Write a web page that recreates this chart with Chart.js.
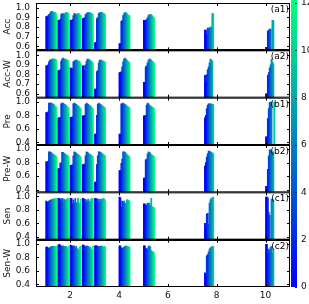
<!DOCTYPE html>
<html>
<head>
<meta charset="utf-8">
<script src="https://cdn.jsdelivr.net/npm/chart.js@4.4.1/dist/chart.umd.min.js"></script>
<style>
  html, body { margin: 0; padding: 0; background: #fff; }
  #wrap { width: 309px; height: 304px; }
</style>
</head>
<body>
<div id="wrap"><canvas id="chart"></canvas></div>
<script>
// x positions of the bar groups
const groupPositions = [1, 1.5, 2, 2.5, 3, 4, 5, 7.5, 10];
const panelNames = ["Acc", "Acc-W", "Pre", "Pre-W", "Sen", "Sen-W"];
const panelTags = ["(a1)", "(a2)", "(b1)", "(b2)", "(c1)", "(c2)"];
const panelMin = [0.56, 0.56, 0.36, 0.36, 0.36, 0.36];
const panelMax = [1.05, 1.05, 1.06, 1.06, 1.06, 1.06];
const panelStep = [0.1, 0.1, 0.2, 0.2, 0.2, 0.2];
const xMin = 0.6, xMax = 11, xStep = 2;
const colorbarMin = 0, colorbarMax = 12, colorbarStep = 2;

// one row per group, 12 bars per group (colour index 0..11)
const accValues = [
  [0.91, 0.91, 0.92, 0.93, 0.94, 0.96, 0.96, 0.96, 0.95, 0.95, 0.95, 0.94],
  [0.87, 0.87, 0.88, 0.93, 0.94, 0.94, 0.93, 0.94, 0.95, 0.95, 0.95, 0.94],
  [0.87, 0.87, 0.88, 0.92, 0.94, 0.94, 0.93, 0.93, 0.94, 0.94, 0.93, 0.92],
  [0.89, 0.89, 0.90, 0.93, 0.94, 0.95, 0.95, 0.95, 0.95, 0.94, 0.94, 0.93],
  [0.64, 0.64, 0.89, 0.90, 0.94, 0.95, 0.95, 0.95, 0.95, 0.94, 0.94, 0.93],
  [0.63, 0.63, 0.86, 0.87, 0.92, 0.94, 0.95, 0.95, 0.94, 0.93, 0.92, 0.92],
  [0.87, 0.87, 0.87, 0.88, 0.90, 0.92, 0.93, 0.93, 0.93, 0.92, 0.91, 0.90],
  [0.77, 0.77, 0.72, 0.79, 0.79, 0.79, 0.80, 0.80, 0.94, 0.94, null, null],
  [0.59, 0.59, 0.76, 0.77, 0.78, 0.78, null, 0.87, 0.87, null, null, null]
];
const accWValues = [
  [0.89, 0.89, 0.90, 0.93, 0.95, 0.95, 0.96, 0.96, 0.96, 0.96, 0.96, 0.95],
  [0.84, 0.84, 0.85, 0.94, 0.96, 0.97, 0.96, 0.96, 0.96, 0.95, 0.95, 0.94],
  [0.87, 0.86, 0.86, 0.93, 0.94, 0.95, 0.95, 0.95, 0.94, 0.94, 0.93, 0.91],
  [0.89, 0.89, 0.84, 0.90, 0.94, 0.96, 0.96, 0.95, 0.95, 0.94, 0.93, 0.92],
  [0.65, 0.65, 0.83, 0.84, 0.92, 0.95, 0.95, 0.95, 0.94, 0.94, 0.93, 0.93],
  [0.82, 0.82, 0.83, 0.88, 0.93, 0.96, 0.97, 0.96, 0.95, 0.94, 0.93, 0.92],
  [0.72, 0.72, 0.88, 0.89, 0.92, 0.95, 0.96, 0.96, 0.95, 0.94, 0.93, 0.92],
  [0.79, 0.72, 0.80, 0.85, 0.88, 0.92, 0.96, 0.95, 0.94, null, null, null],
  [0.60, 0.60, 0.79, 0.82, 0.87, 0.90, 0.96, 0.93, 0.91, null, null, null]
];
const preValues = [
  [0.84, 0.84, 0.85, 0.98, 0.98, 0.98, 0.98, 0.97, 0.96, 0.95, 0.93, 0.92],
  [0.76, 0.76, 0.77, 0.97, 0.98, 0.98, 0.97, 0.96, 0.95, 0.94, 0.92, 0.91],
  [0.77, 0.77, 0.78, 0.97, 0.98, 0.97, 0.96, 0.95, 0.94, 0.93, 0.92, 0.90],
  [0.79, 0.79, 0.80, 0.96, 0.98, 0.97, 0.96, 0.95, 0.94, 0.93, 0.91, 0.90],
  [0.52, 0.52, 0.80, 0.96, 0.98, 0.97, 0.96, 0.95, 0.94, 0.93, 0.92, 0.91],
  [0.52, 0.52, 0.97, 0.97, 0.98, 0.97, 0.96, 0.95, 0.94, 0.93, 0.92, 0.91],
  [0.79, 0.79, 0.80, 0.95, 0.98, 0.97, 0.95, 0.94, 0.93, 0.92, 0.91, 0.90],
  [0.76, 0.80, 0.90, 0.95, 0.97, 0.97, 0.97, 0.97, 0.96, 0.96, null, null],
  [0.48, 0.48, 0.75, 0.90, 0.99, 0.99, 1.00, null, null, 0.99, null, null]
];
const preWValues = [
  [0.81, 0.81, 0.82, 0.96, 0.96, 0.95, 0.94, 0.93, 0.92, 0.91, 0.90, 0.89],
  [0.71, 0.71, 0.79, 0.80, 0.95, 0.95, 0.94, 0.93, 0.92, 0.91, 0.90, 0.89],
  [0.76, 0.76, 0.77, 0.90, 0.96, 0.95, 0.94, 0.93, 0.92, 0.91, 0.90, 0.88],
  [0.77, 0.77, 0.78, 0.90, 0.96, 0.95, 0.94, 0.93, 0.92, 0.91, 0.90, 0.89],
  [0.51, 0.51, 0.77, 0.90, 0.96, 0.96, 0.95, 0.94, 0.93, 0.92, 0.91, 0.90],
  [0.68, 0.68, 0.79, 0.85, 0.96, 0.96, 0.95, 0.94, 0.92, 0.91, 0.90, 0.88],
  [0.57, 0.57, 0.84, 0.85, 0.93, 0.96, 0.95, 0.94, 0.92, 0.91, 0.90, 0.89],
  [0.75, 0.80, 0.88, 0.93, 0.97, 0.97, 0.96, 0.95, 0.94, 0.93, null, null],
  [0.45, 0.45, 0.70, 0.90, 0.99, 0.99, 0.97, 0.95, 0.96, null, null, null]
];
const senValues = [
  [0.93, 0.92, 0.91, 0.93, 0.94, 0.95, 0.95, 0.96, 0.96, 0.96, 0.97, 0.97],
  [0.97, 0.97, 0.96, 0.92, 0.97, 0.89, 0.96, 0.95, 0.93, 0.96, 0.97, 0.96],
  [0.97, 0.97, 0.89, 0.95, 0.89, 0.97, 0.90, 0.91, 0.97, 0.89, 0.90, 0.96],
  [0.97, 0.96, 0.96, 0.91, 0.95, 0.92, 0.96, 0.92, 0.93, 0.96, 0.97, 0.96],
  [0.97, 0.97, 0.96, 0.92, 0.96, 0.92, 0.96, 0.95, 0.96, 0.97, 0.96, 0.95],
  [0.99, 0.98, 0.84, 0.93, 0.90, 0.93, 0.88, 0.90, 0.95, 0.95, 0.94, 0.93],
  [0.89, 0.89, 0.87, 0.87, 0.90, 0.89, 0.90, 0.86, 0.97, 0.85, 0.84, 0.84],
  [0.60, 0.54, 0.74, 0.75, 0.59, 0.90, 0.95, 0.97, 0.98, 0.99, null, null],
  [0.99, 0.99, 0.98, 0.76, 0.72, null, 0.96, 0.96, 0.95, null, null, null]
];
const senWValues = [
  [0.95, 0.95, 0.93, 0.94, 0.94, 0.95, 0.96, 0.96, 0.96, 0.96, 0.96, 0.96],
  [0.98, 0.99, 0.98, 0.97, 0.96, 0.97, 0.96, 0.95, 0.96, 0.95, 0.94, 0.96],
  [0.98, 0.97, 0.97, 0.95, 0.97, 0.94, 0.96, 0.93, 0.92, 0.90, 0.95, 0.96],
  [0.98, 0.98, 0.96, 0.95, 0.97, 0.96, 0.96, 0.94, 0.95, 0.92, 0.90, 0.96],
  [0.97, 0.97, 0.97, 0.96, 0.96, 0.96, 0.96, 0.97, 0.96, 0.95, 0.95, 0.96],
  [0.97, 0.97, 0.94, 0.93, 0.94, 0.95, 0.96, 0.97, 0.96, 0.96, 0.95, 0.95],
  [0.97, 0.97, 0.93, 0.93, 0.92, 0.96, 0.97, 0.95, 0.90, 0.88, 0.88, 0.87],
  [0.57, 0.52, 0.82, 0.84, 0.88, 0.92, 0.94, 0.95, 0.96, 0.96, null, null],
  [0.99, 0.99, 0.85, 0.92, 0.88, 0.95, 0.96, 0.86, 0.92, null, null, null]
];

const panels = [accValues, accWValues, preValues, preWValues, senValues, senWValues];
const barsPerGroup = 12;
const barWidth = 0.0375;
const font = { family: "'DejaVu Sans', sans-serif", size: 9 };

// matplotlib "winter" colormap
const winter = (t) => `rgb(0, ${Math.round(255 * t)}, ${Math.round(255 * (1 - 0.5 * t))})`;

let datasets = [];
panels.forEach((vals, p) => {
  for (let i = 0; i < barsPerGroup; i++) {
    datasets.push({
      yAxisID: "y" + p,
      data: groupPositions.map((g, j) => ({ x: g + (i + 0.5) * barWidth, y: vals[j][i] })),
      backgroundColor: winter(i / (barsPerGroup - 1)),
      base: panelMin[p],
      barThickness: 1.2,
      grouped: false,
      borderWidth: 0,
    });
  }
});

const noPadding = (s) => {
  s.paddingTop = 0;
  s.paddingBottom = 0;
  s.paddingLeft = 0;
  s.paddingRight = 0;
};

let scales = {
  x: {
    type: "linear",
    position: "bottom",
    offset: false,
    min: xMin,
    max: xMax,
    grid: { display: false, drawTicks: false },
    border: { display: false },
    ticks: { stepSize: xStep, includeBounds: false, padding: 3, color: "#111", font: font },
    afterFit: (s) => { s.height = 17; noPadding(s); },
  },
};

panelNames.forEach((name, p) => {
  scales["y" + p] = {
    type: "linear",
    position: "left",
    stack: "panels",
    stackWeight: 1,
    weight: 10 - p,
    min: panelMin[p],
    max: panelMax[p],
    grid: { display: false, drawTicks: false },
    border: { display: false },
    ticks: {
      stepSize: panelStep[p],
      includeBounds: false,
      autoSkip: false,
      padding: 6,
      color: "#111",
      font: font,
      callback: (v) => v.toFixed(1),
    },
    title: { display: true, text: name, color: "#111", font: font, padding: { top: 2, bottom: 0 } },
    afterFit: (s) => { s.width = 36; noPadding(s); },
  };
});

scales.cb = {
  type: "linear",
  position: "right",
  min: colorbarMin,
  max: colorbarMax,
  grid: { display: false, drawTicks: false },
  border: { display: false },
  ticks: { stepSize: colorbarStep, autoSkip: false, padding: 11, color: "#111", font: font },
  afterFit: (s) => { s.width = 19; noPadding(s); },
};

// frames, inward ticks, panel tags and the colour bar
const framePlugin = {
  id: "frames",
  afterDatasetsDraw(chart) {
    const { ctx, chartArea, scales } = chart;
    const x = scales.x;
    ctx.save();
    ctx.strokeStyle = "#000";
    ctx.lineWidth = 1;
    panelNames.forEach((name, p) => {
      const y = scales["y" + p];
      ctx.beginPath();
      y.ticks.forEach((t) => {
        const py = Math.round(y.getPixelForValue(t.value)) + 0.5;
        ctx.moveTo(chartArea.left, py);
        ctx.lineTo(chartArea.left + 3, py);
        ctx.moveTo(chartArea.right, py);
        ctx.lineTo(chartArea.right - 3, py);
      });
      x.ticks.forEach((t) => {
        const px = Math.round(x.getPixelForValue(t.value)) + 0.5;
        ctx.moveTo(px, y.top);
        ctx.lineTo(px, y.top + 3);
        ctx.moveTo(px, y.bottom);
        ctx.lineTo(px, y.bottom - 3);
      });
      ctx.stroke();
      ctx.strokeRect(chartArea.left + 0.5, y.top + 0.5, chartArea.width - 1, y.height - 1);

      ctx.fillStyle = "#000";
      ctx.font = "9px 'DejaVu Sans'";
      ctx.textAlign = "right";
      ctx.textBaseline = "top";
      ctx.fillText(panelTags[p], chartArea.right - 1, y.top + 2);
    });

    // thicker line between the two panels of each pair
    ctx.lineWidth = 2;
    [0, 2, 4].forEach((p) => {
      const yb = Math.round(scales["y" + p].bottom);
      ctx.beginPath();
      ctx.moveTo(chartArea.left, yb);
      ctx.lineTo(chartArea.right, yb);
      ctx.stroke();
    });

    const cb = scales.cb;
    const grad = ctx.createLinearGradient(0, cb.bottom, 0, cb.top);
    grad.addColorStop(0, winter(0));
    grad.addColorStop(1, winter(1));
    ctx.fillStyle = grad;
    const cbLeft = chartArea.right + 1;
    ctx.fillRect(cbLeft, cb.top - 3, 6, cb.height + 3);
    ctx.lineWidth = 1;
    ctx.strokeStyle = "#222";
    ctx.beginPath();
    cb.ticks.forEach((t) => {
      const py = Math.round(cb.getPixelForValue(t.value)) + 0.5;
      ctx.moveTo(cbLeft + 4, py);
      ctx.lineTo(cbLeft + 6, py);
    });
    ctx.stroke();
    ctx.restore();
  },
};

new Chart(document.getElementById("chart"), {
  type: "bar",
  data: { datasets: datasets },
  options: {
    responsive: true,
    maintainAspectRatio: false,
    animation: false,
    layout: { padding: { top: 3, left: 0, right: 0, bottom: 0 } },
    plugins: { legend: { display: false }, tooltip: { enabled: false } },
    scales: scales,
  },
  plugins: [framePlugin],
});
</script>
</body>
</html>
